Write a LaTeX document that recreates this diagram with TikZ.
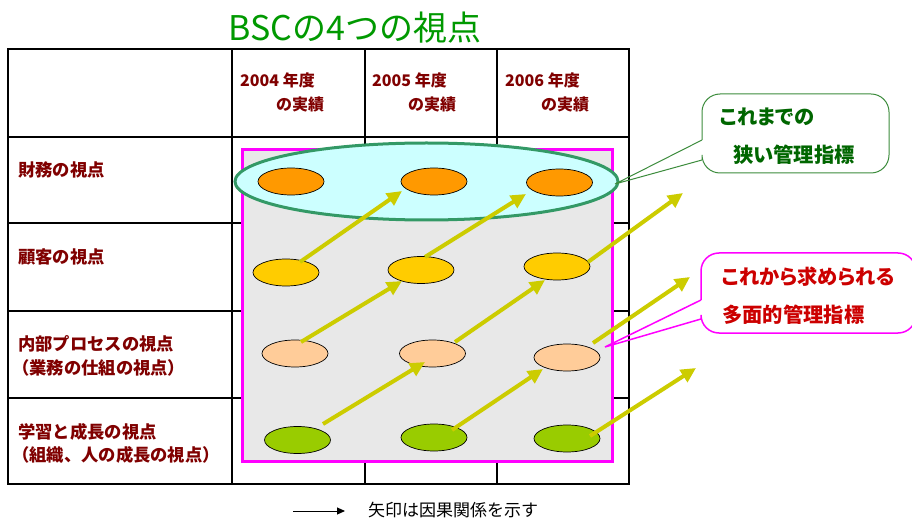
\documentclass[tikz,border=0pt]{standalone}
\usepackage{fontspec}
\setmainfont{Noto Sans CJK JP}
\newfontfamily\jpprop{Noto Sans CJK JP}[RawFeature=+palt]
\usetikzlibrary{shapes.geometric,arrows.meta}
\definecolor{titlegreen}{HTML}{009900}
\definecolor{darkred}{HTML}{800000}
\definecolor{magentaline}{HTML}{FF00FF}
\definecolor{grayfill}{HTML}{E8E8E8}
\definecolor{cyanfill}{HTML}{CCFFFF}
\definecolor{tealline}{HTML}{339966}
\definecolor{orangefill}{HTML}{FF9900}
\definecolor{yellowfill}{HTML}{FFCC00}
\definecolor{peachfill}{HTML}{FFCC99}
\definecolor{greenfill}{HTML}{99CC00}
\definecolor{arrowyellow}{HTML}{CCCC00}
\definecolor{calloutgreen}{HTML}{3C8C3C}
\definecolor{textgreen}{HTML}{006600}
\definecolor{textred}{HTML}{CC0000}
\begin{document}
\begin{tikzpicture}[x=1pt,y=-1pt,
  lab/.style={anchor=west, inner sep=0pt, text=darkred, font=\fontsize{17.3}{20}\selectfont\bfseries},
  hdr/.style={anchor=west, inner sep=0pt, text=darkred, font=\fontsize{16}{19}\selectfont\bfseries},
  tline/.style={line width=1.6pt, draw=black},
  el/.style={ellipse, draw=black, line width=0.7pt, minimum width=66pt, minimum height=27pt, inner sep=0pt},
  causal/.style={line width=4pt, draw=arrowyellow, -{Triangle[length=15pt,width=14pt]}},
  gtext/.style={anchor=west, inner sep=0pt, text=textgreen, font=\jpprop\fontsize{20.3}{23}\selectfont\bfseries},
  rtext/.style={anchor=west, inner sep=0pt, text=textred, font=\jpprop\fontsize{20.3}{23}\selectfont\bfseries}
]
\useasboundingbox[fill=white] (0,0) rectangle (912,518);

% title
\node[inner sep=0pt, text=titlegreen, font=\fontsize{34}{38}\selectfont] (title) at (355,28) {BSCの4つの視点};

% table
\draw[tline] (8,49) rectangle (629,484);
\foreach \yy in {137,223,311,398} \draw[tline] (8,\yy) -- (629,\yy);
\foreach \xx in {232,365,497} \draw[tline] (\xx,49) -- (\xx,484);

% header
\node[hdr] (h1a) at (240,80) {2004 年度};
\node[hdr] (h1b) at (276,104) {の実績};
\node[hdr] (h2a) at (372,80) {2005 年度};
\node[hdr] (h2b) at (408,104) {の実績};
\node[hdr] (h3a) at (505,80) {2006 年度};
\node[hdr] (h3b) at (541,104) {の実績};

% row labels
\node[lab] (r1) at (18,170) {財務の視点};
\node[lab] (r2) at (18,257) {顧客の視点};
\node[lab] (r3a) at (18,344) {内部プロセスの視点};
\node[lab] (r3b) at (12,368) {（業務の仕組の視点）};
\node[lab] (r4a) at (18,432) {学習と成長の視点};
\node[lab] (r4b) at (12,455) {（組織、人の成長の視点）};

% magenta area
\draw[line width=3pt, draw=magentaline, fill=grayfill] (242,150) rectangle (612,461);

% cyan ellipse
\node[ellipse, draw=tealline, line width=3pt, fill=cyanfill, minimum width=383pt, minimum height=77pt, inner sep=0pt] (fin) at (426.5,181.5) {};

% small ellipses
\node[el, fill=orangefill] (o1) at (291,181.5) {};
\node[el, fill=orangefill] (o2) at (434,181.5) {};
\node[el, fill=orangefill] (o3) at (559.5,182.5) {};
\node[el, fill=yellowfill] (y1) at (286,272.5) {};
\node[el, fill=yellowfill] (y2) at (421,270) {};
\node[el, fill=yellowfill] (y3) at (557,266.5) {};
\node[el, fill=peachfill] (p1) at (295,353.5) {};
\node[el, fill=peachfill] (p2) at (432.5,353.5) {};
\node[el, fill=peachfill] (p3) at (567,357.5) {};
\node[el, fill=greenfill] (g1) at (297.5,440) {};
\node[el, fill=greenfill] (g2) at (434,437.5) {};
\node[el, fill=greenfill] (g3) at (567,438.5) {};

% arrow end points
\coordinate (a1s) at (300,262); \coordinate (a1e) at (402,191);
\coordinate (a2s) at (425,257); \coordinate (a2e) at (526,194);
\coordinate (a3s) at (588,262); \coordinate (a3e) at (683,193);
\coordinate (a4s) at (301,342); \coordinate (a4e) at (402,281);
\coordinate (a5s) at (455,342); \coordinate (a5e) at (545,280);
\coordinate (a6s) at (593,343); \coordinate (a6e) at (690,277);
\coordinate (a7s) at (323,424); \coordinate (a7e) at (425,362);
\coordinate (a8s) at (452,430); \coordinate (a8e) at (543,369);
\coordinate (a9s) at (590,436); \coordinate (a9e) at (696,368);
\foreach \i in {1,...,9} \draw[causal] (a\i s) -- (a\i e);

% callout 1 (green)
\coordinate (c1tip) at (615,184);
\coordinate (c1a) at (702,140);
\coordinate (c1b) at (702,160);
\fill[white, rounded corners=18pt] (702,94) rectangle (889,173);
\draw[calloutgreen, line width=1pt, rounded corners=18pt] (c1a) -- (702,94) -- (889,94) -- (889,173) -- (702,173) -- (c1b);
\draw[calloutgreen, line width=1pt] (c1a) -- (c1tip) -- (c1b);
\node[gtext] (c1t1) at (720,117) {これまでの};
\node[gtext] (c1t2) at (733,155) {狭い管理指標};

% callout 2 (magenta)
\coordinate (c2tip) at (605,347);
\coordinate (c2a) at (701,300);
\coordinate (c2b) at (701,319);
\fill[white, rounded corners=18pt] (701,253) rectangle (916,333);
\draw[magentaline, line width=1.5pt, rounded corners=18pt] (c2a) -- (701,253) -- (916,253) -- (916,333) -- (701,333) -- (c2b);
\draw[magentaline, line width=1.5pt] (c2a) -- (c2tip) -- (c2b);
\node[rtext] (c2t1) at (722,277) {これから求められる};
\node[rtext] (c2t2) at (722,315) {多面的管理指標};

% legend
\coordinate (lgs) at (293,511);
\coordinate (lge) at (345,511);
\draw[line width=1pt, -{Triangle[length=8pt,width=7pt]}] (lgs) -- (lge);
\node[anchor=west, inner sep=0pt, font=\fontsize{17}{20}\selectfont] (lgt) at (368,510) {矢印は因果関係を示す};
\end{tikzpicture}
\end{document}
